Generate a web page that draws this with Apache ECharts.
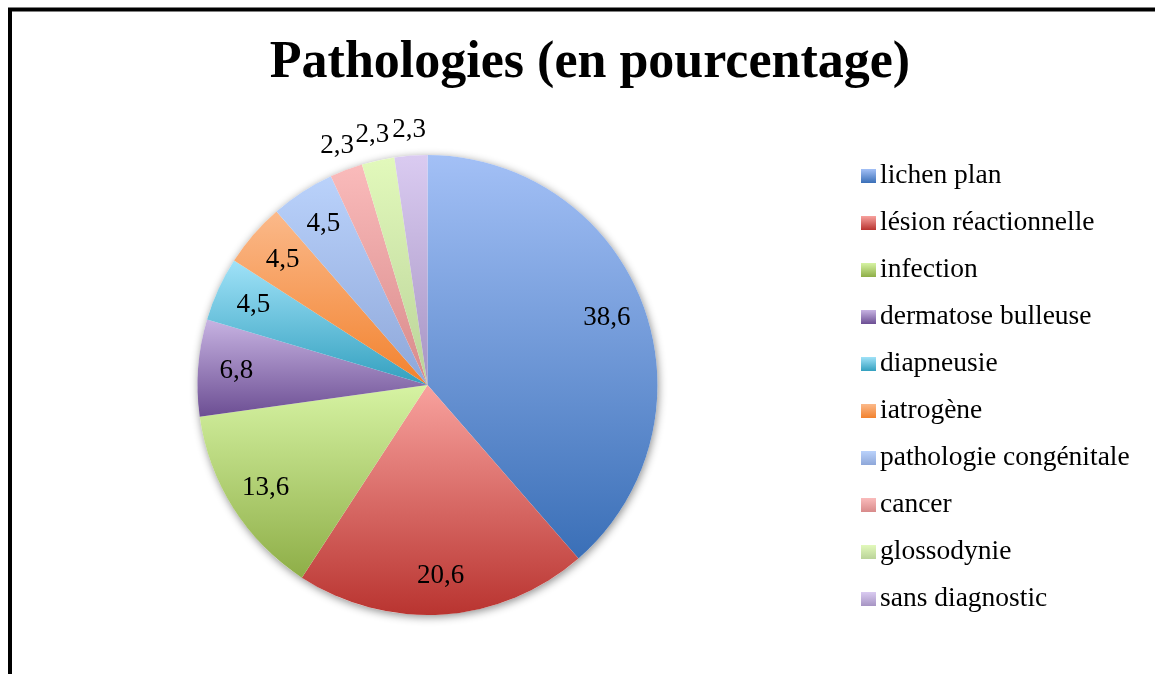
<!DOCTYPE html>
<html>
<head>
<meta charset="utf-8">
<script src="https://cdn.jsdelivr.net/npm/echarts@6/dist/echarts.min.js"></script>
<style>
html,body{margin:0;padding:0;background:#fff;}
#chart{width:1155px;height:674px;}
</style>
</head>
<body>
<div id="chart"></div>
<script>
const titleText = 'Pathologies (en pourcentage)';
const categories = ['lichen plan','lésion réactionnelle','infection','dermatose bulleuse','diapneusie','iatrogène','pathologie congénitale','cancer','glossodynie','sans diagnostic'];
const values = [38.6, 20.6, 13.6, 6.8, 4.5, 4.5, 4.5, 2.3, 2.3, 2.3];
const colorTop = ['#a3c0f6','#f8a29e','#d6f3a3','#c7b3e2','#a0e2f8','#fbb98a','#bad2fb','#fabbbb','#e2f9bb','#dacbf1'];
const colorBottom = ['#3a6fb7','#b93430','#8eae47','#6c4e93','#33a0bf','#f2822e','#8ea7d9','#d88a8a','#bad399','#a694c3'];

const FONT = '"Liberation Serif", "DejaVu Serif", serif';
const R = 230;
const CX = 427.5, CY = 385;
const fmt = v => v.toFixed(1).replace('.', ',');
const grad = i => new echarts.graphic.LinearGradient(0, 0, 0, 1, [
  {offset: 0, color: colorTop[i]}, {offset: 1, color: colorBottom[i]}
]);
const total = values.reduce((a, b) => a + b, 0);

const chart = echarts.init(document.getElementById('chart'), null, {renderer: 'canvas'});
const labelPie = (radius, pred) => ({
  type: 'pie', silent: true, center: [CX, CY], radius: [0, radius],
  startAngle: 90, clockwise: true, z: 5,
  itemStyle: {color: 'rgba(0,0,0,0)', borderWidth: 0},
  labelLine: {show: false},
  emphasis: {disabled: true},
  legendHoverLink: false,
  data: categories.map((c, i) => ({
    name: c, value: values[i],
    itemStyle: {color: 'rgba(0,0,0,0)'},
    label: {show: pred(values[i]), position: 'inside', formatter: () => fmt(values[i]),
      fontFamily: FONT, fontSize: 27, color: '#000'}
  }))
});

chart.setOption({
  animation: false,
  backgroundColor: '#fff',
  title: {
    text: titleText, left: 585, top: 33, textAlign: 'center',
    textStyle: {fontFamily: FONT, fontWeight: 'bold', fontSize: 52, color: '#000'}
  },
  legend: {
    orient: 'vertical', left: 856, top: 157,
    itemWidth: 15, itemHeight: 14, itemGap: 19,
    icon: 'rect',
    textStyle: {fontFamily: FONT, fontSize: 27.5, lineHeight: 27, color: '#000', padding: [0, 0, 0, -1]},
    data: categories
  },
  graphic: [{
    type: 'rect', shape: {x: 10, y: 9.5, width: 1250, height: 800},
    style: {fill: 'none', stroke: '#000', lineWidth: 4}, z: 100, silent: true
  }],
  series: [
    {
      type: 'pie', silent: true, center: [CX, CY], radius: [0, R], z: 1,
      label: {show: false}, labelLine: {show: false}, legendHoverLink: false,
      itemStyle: {color: '#fff', shadowBlur: 8, shadowColor: 'rgba(0,0,0,0.45)', shadowOffsetX: 1, shadowOffsetY: 2},
      emphasis: {disabled: true}, tooltip: {show: false},
      data: [{name: '_shadow', value: total}]
    },
    {
      type: 'pie', center: [CX, CY], radius: [0, R], z: 2,
      startAngle: 90, clockwise: true,
      label: {show: false}, labelLine: {show: false},
      itemStyle: {borderWidth: 0},
      data: categories.map((c, i) => ({name: c, value: values[i], itemStyle: {color: grad(i)}}))
    },
    labelPie(R * 2 * 0.82, v => v >= 3),
    labelPie(R * 2 * 1.1, v => v < 3)
  ]
});
</script>
</body>
</html>
